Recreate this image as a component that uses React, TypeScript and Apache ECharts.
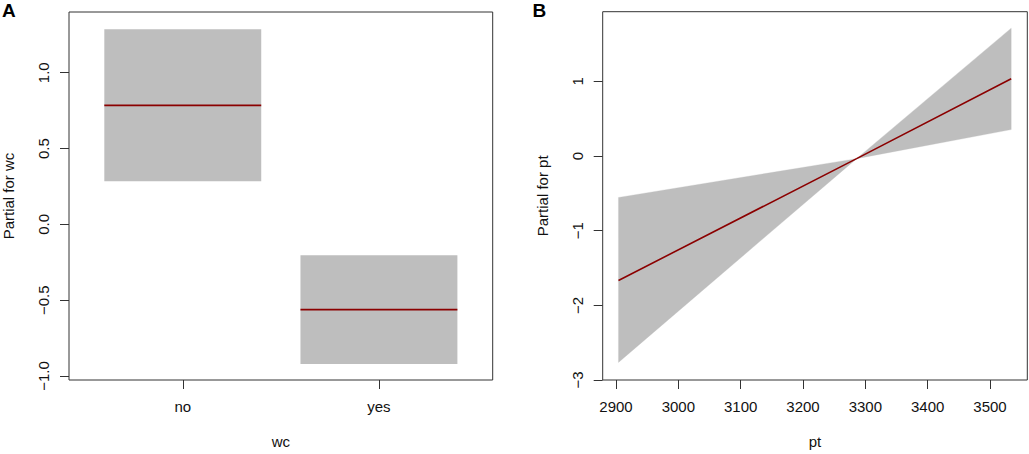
import React, { useEffect, useRef } from "react";
import * as echarts from "echarts";

// Panel A: factor term "wc"
const wcCategories = ["no", "yes"];
const wcPositions = [1, 2];
const wcFit = [0.785, -0.562];
const wcLower = [0.2845, -0.921];
const wcUpper = [1.287, -0.203];
const wcYTicks = [-1, -0.5, 0, 0.5, 1];

// Panel B: linear term "pt"
const ptX = [2904, 3286, 3534];
const ptFit = [-1.667, -0.035, 1.036];
const ptLower = [-2.764, -0.035, 0.354];
const ptUpper = [-0.555, -0.035, 1.713];
const ptXTicks = [2900, 3000, 3100, 3200, 3300, 3400, 3500];
const ptYTicks = [-3, -2, -1, 0, 1];

const HALF_WIDTH = 0.4;
const FONT = "'Liberation Sans', Arial, Helvetica, sans-serif";
const AXIS_COLOR = "#333";
const TEXT_COLOR = "#111";
const BAND = "#BEBEBE";
const FIT = "#8B0000";

const minus = (s: string) => s.replace("-", "\u2212");

function xAxisBase(gridIndex: number, min: number, max: number, ticks: number[], fmt: (v: number) => string, name: string) {
  return {
    type: "value",
    gridIndex,
    position: "bottom",
    min,
    max,
    name,
    nameLocation: "middle",
    nameGap: 54,
    nameTextStyle: { fontFamily: FONT, fontSize: 15, color: TEXT_COLOR },
    axisLine: { show: false, onZero: false },
    splitLine: { show: false },
    axisTick: { show: true, length: 9, inside: false, customValues: ticks, lineStyle: { color: AXIS_COLOR, width: 1 } },
    axisLabel: {
      show: true,
      customValues: ticks,
      margin: 19,
      fontFamily: FONT,
      fontSize: 15,
      color: TEXT_COLOR,
      formatter: (v: number) => fmt(v),
    },
  };
}

function yAxisBase(gridIndex: number, min: number, max: number, ticks: number[], fmt: (v: number) => string, name: string) {
  return {
    type: "value",
    gridIndex,
    position: "left",
    min,
    max,
    name,
    nameLocation: "middle",
    nameGap: 53,
    nameRotate: 90,
    nameTextStyle: { fontFamily: FONT, fontSize: 15, color: TEXT_COLOR },
    axisLine: { show: false, onZero: false },
    splitLine: { show: false },
    axisTick: { show: true, length: 9, inside: false, customValues: ticks, lineStyle: { color: AXIS_COLOR, width: 1 } },
    axisLabel: {
      show: true,
      customValues: ticks,
      rotate: 90,
      margin: 18,
      fontFamily: FONT,
      fontSize: 15,
      color: TEXT_COLOR,
      formatter: (v: number) => fmt(v),
    },
  };
}

export default function App() {
  const ref = useRef<HTMLDivElement>(null);

  useEffect(() => {
    if (!ref.current) return;
    const chart = echarts.init(ref.current, undefined, { renderer: "svg" });

    const wcData = wcPositions.map((p, i) => [p, wcLower[i], wcUpper[i], wcFit[i]]);
    const ptSegments = ptX.slice(0, -1).map((x, i) => [
      x, ptLower[i], ptUpper[i], ptX[i + 1], ptLower[i + 1], ptUpper[i + 1],
    ]);

    const option: any = {
      animation: false,
      backgroundColor: "#fff",
      title: [
        { text: "A", left: 2, top: 1, padding: 0, textStyle: { fontFamily: FONT, fontSize: 19, fontWeight: "bold", color: "#000" } },
        { text: "B", left: 532.5, top: 1, padding: 0, textStyle: { fontFamily: FONT, fontSize: 19, fontWeight: "bold", color: "#000" } },
      ],
      grid: [
        { left: 69, top: 12, width: 423.7, height: 369.7, show: true, borderColor: AXIS_COLOR, borderWidth: 1, backgroundColor: "transparent", containLabel: false },
        { left: 602.7, top: 11.7, width: 424.6, height: 370, show: true, borderColor: AXIS_COLOR, borderWidth: 1, backgroundColor: "transparent", containLabel: false },
      ],
      xAxis: [
        xAxisBase(0, 0.42, 2.58, wcPositions, (v) => wcCategories[wcPositions.indexOf(Math.round(v))] ?? "", "wc"),
        xAxisBase(1, 2878.7, 3559.8, ptXTicks, (v) => String(Math.round(v)), "pt"),
      ],
      yAxis: [
        yAxisBase(0, -1.0263, 1.4006, wcYTicks, (v) => minus(v.toFixed(1)), "Partial for wc"),
        yAxisBase(1, -3.0, 1.933, ptYTicks, (v) => minus(String(Math.round(v))), "Partial for pt"),
      ],
      series: [
        {
          type: "custom",
          xAxisIndex: 0,
          yAxisIndex: 0,
          data: wcData,
          encode: { x: 0, y: [1, 2, 3] },
          renderItem: (params: any, api: any) => {
            const pos = api.value(0);
            const lo = api.value(1);
            const hi = api.value(2);
            const fit = api.value(3);
            const p1 = api.coord([pos - HALF_WIDTH, hi]);
            const p2 = api.coord([pos + HALF_WIDTH, lo]);
            const f1 = api.coord([pos - HALF_WIDTH, fit]);
            const f2 = api.coord([pos + HALF_WIDTH, fit]);
            return {
              type: "group",
              children: [
                { type: "rect", shape: { x: p1[0], y: p1[1], width: p2[0] - p1[0], height: p2[1] - p1[1] }, style: { fill: BAND } },
                { type: "line", shape: { x1: f1[0], y1: f1[1], x2: f2[0], y2: f2[1] }, style: { stroke: FIT, lineWidth: 1.6 } },
              ],
            };
          },
        },
        {
          type: "custom",
          xAxisIndex: 1,
          yAxisIndex: 1,
          data: ptSegments,
          encode: { x: [0, 3], y: [1, 2, 4, 5] },
          renderItem: (params: any, api: any) => {
            const a = api.coord([api.value(0), api.value(2)]);
            const b = api.coord([api.value(3), api.value(5)]);
            const c = api.coord([api.value(3), api.value(4)]);
            const d = api.coord([api.value(0), api.value(1)]);
            return { type: "polygon", shape: { points: [a, b, c, d] }, style: { fill: BAND, stroke: BAND, lineWidth: 0.3 } };
          },
        },
        {
          type: "line",
          xAxisIndex: 1,
          yAxisIndex: 1,
          data: ptX.map((x, i) => [x, ptFit[i]]),
          showSymbol: false,
          symbol: "none",
          lineStyle: { color: FIT, width: 1.6 },
          z: 5,
        },
      ],
    };

    chart.setOption(option);
    return () => chart.dispose();
  }, []);

  return <div ref={ref} style={{ position: "absolute", left: 0, top: 0, width: 1029, height: 454 }} />;
}
